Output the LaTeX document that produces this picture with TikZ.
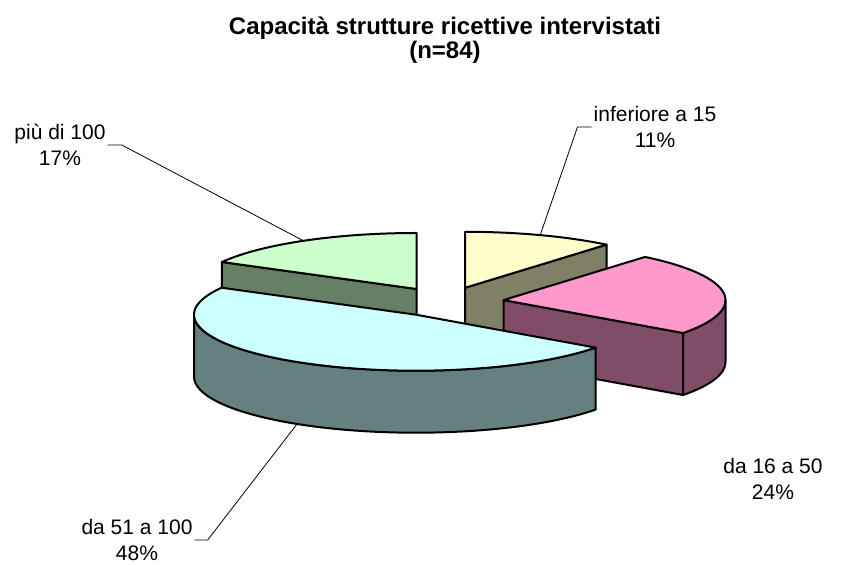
\documentclass[tikz,border=0pt]{standalone}
\usepackage{fontspec}
\setmainfont{Liberation Sans}
\usetikzlibrary{calc, positioning}

\definecolor{yellowtop}{HTML}{FFFFCC}
\definecolor{yellowside}{HTML}{808066}
\definecolor{pinktop}{HTML}{FF99CC}
\definecolor{pinkside}{HTML}{804C66}
\definecolor{cyantop}{HTML}{CCFFFF}
\definecolor{cyanside}{HTML}{668080}
\definecolor{greentop}{HTML}{CCFFCC}
\definecolor{greenside}{HTML}{668066}

\begin{document}
\begin{tikzpicture}[
    x=1pt, y=1pt,
    face/.style={draw=black, line width=2pt, line join=round},
    rim/.style={x radius=222, y radius=56},
    lbl/.style={align=center, inner sep=2pt, font=\fontsize{21}{26}\selectfont},
    leader/.style={draw=black, line width=0.8pt}
  ]
    \useasboundingbox (0,0) rectangle (855,565);

    % slice centres (exploded)
    \coordinate (G) at (416.5,276.0);
    \coordinate (Y) at (465.0,277.2);
    \coordinate (P) at (503.5,264.9);
    \coordinate (C) at (416.0,250.3);

    % piu di 100
    \begin{scope}[shift={(G)}]
      \path[face, fill=greenside] (0,0) -- (151.2:222 and 56) -- ++(0,-62) -- (0,-62) -- cycle;
      \path[face, fill=greentop] (0,0) -- (151.2:222 and 56) arc[rim, start angle=151.2, end angle=90] -- cycle;
    \end{scope}

    % inferiore a 15
    \begin{scope}[shift={(Y)}]
      \path[face, fill=yellowside] (0,0) -- (50.4:222 and 56) -- ++(0,-62) -- (0,-62) -- cycle;
      \path[face, fill=yellowtop] (0,0) -- (90:222 and 56) arc[rim, start angle=90, end angle=50.4] -- cycle;
    \end{scope}

    % da 16 a 50
    \begin{scope}[shift={(P)}]
      \path[face, fill=pinkside] (0,0) -- (-36:222 and 56) -- ++(0,-62) -- (0,-62) -- cycle;
      \path[face, fill=pinkside] (-36:222 and 56) arc[rim, start angle=-36, end angle=0] -- ++(0,-62) arc[rim, start angle=0, end angle=-36] -- cycle;
      \path[face, fill=pinktop] (0,0) -- (-36:222 and 56) arc[rim, start angle=-36, end angle=50.4] -- cycle;
    \end{scope}

    % da 51 a 100
    \begin{scope}[shift={(C)}]
      \path[face, fill=cyanside] (180:222 and 56) arc[rim, start angle=180, end angle=324] -- ++(0,-62) arc[rim, start angle=324, end angle=180] -- cycle;
      \path[face, fill=cyantop] (0,0) -- (151.2:222 and 56) arc[rim, start angle=151.2, end angle=324] -- cycle;
    \end{scope}

    % leader ends
    \coordinate (tipY) at ($(Y)+(70.2:222 and 56)$);
    \coordinate (tipG) at ($(G)+(120.6:222 and 56)$);
    \coordinate (tipC) at ($(C)+(-122.4:222 and 56)+(0,-62)$);

    % title
    \node[align=center, font=\fontsize{24}{24}\selectfont\bfseries] (title) at (445,525)
      {Capacità strutture ricettive intervistati\\(n=84)};

    % labels
    \node[lbl] (lblA) at (655,438) {inferiore a 15\\11\%};
    \node[lbl] (lblB) at (773,86) {da 16 a 50\\24\%};
    \node[lbl] (lblC) at (137,25) {da 51 a 100\\48\%};
    \node[lbl] (lblD) at (60,420) {più di 100\\17\%};

    \draw[leader] (lblA.west) -- ++(-14,0) -- (tipY);
    \draw[leader] (lblD.east) -- ++(14,0) -- (tipG);
    \draw[leader] (lblC.east) -- ++(13,0) -- (tipC);
  \end{tikzpicture}
\end{document}
